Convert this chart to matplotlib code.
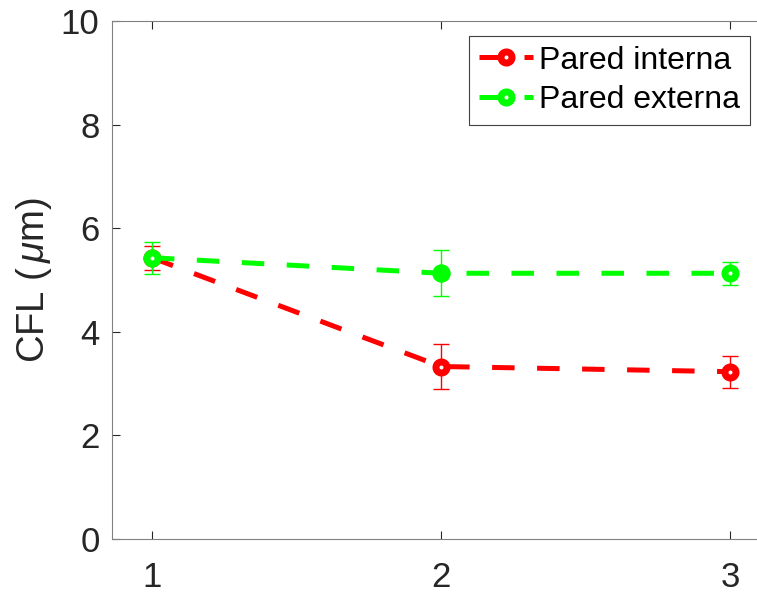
import matplotlib.pyplot as plt

plt.rcParams['font.family'] = ['Liberation Sans', 'DejaVu Sans']
plt.rcParams['mathtext.fontset'] = 'custom'
plt.rcParams['mathtext.it'] = 'Liberation Sans:italic'

# CFL medido en tres posiciones
x = [1, 2, 3]
interna = [5.43, 3.33, 3.23]
interna_err = [0.23, 0.43, 0.31]
externa = [5.43, 5.13, 5.13]
externa_err = [0.31, 0.44, 0.22]
etiquetas = ['Pared interna', 'Pared externa']

fig = plt.figure(figsize=(7.57, 5.94), dpi=100)
ax = fig.add_axes([112 / 757, 55 / 594, 1 - 112 / 757, (539 - 21) / 594])

for y, e, c, lab in [(interna, interna_err, '#ff0000', etiquetas[0]),
                     (externa, externa_err, '#00ff00', etiquetas[1])]:
    ax.errorbar(x, y, yerr=e, fmt='none', ecolor=c, elinewidth=1, capsize=6, capthick=1)
    ax.plot(x, y, color=c, linestyle=(0, (4.5, 4.5)), linewidth=3.6,
            marker='o', markersize=8, markerfacecolor='white',
            markeredgewidth=5, markeredgecolor=c, label=lab)

# el marcador central verde sale relleno
ax.plot(x, externa, linestyle='none', marker='o', markersize=12,
        color='#00ff00', markevery=[1])

ax.set_xlim(0.862, 3.093)
ax.set_ylim(0, 10)
ax.set_xticks([1, 2, 3])
ax.set_yticks([0, 2, 4, 6, 8, 10])
ax.set_ylabel(r'CFL ($\,\mu$m)', fontsize=27.5, color='#262626', labelpad=5)
ax.tick_params(direction='in', labelsize=25, colors='#262626', length=6,
               top=True, right=False)
ax.tick_params(axis='x', pad=16)
ax.tick_params(axis='y', pad=9)
for s in ax.spines.values():
    s.set_color('#808080')
ax.spines['right'].set_visible(False)

leg = ax.legend(loc='upper right', fontsize=23, fancybox=False, edgecolor='#404040',
                framealpha=1, handlelength=1.7, borderpad=0.3, labelspacing=0.3,
                handletextpad=0.2, borderaxespad=0)
leg.get_frame().set_linewidth(0.8)
leg.set_bbox_to_anchor((750 / 757, 1 - 36 / 594), transform=fig.transFigure)

fig.savefig('out.png', dpi=100)
